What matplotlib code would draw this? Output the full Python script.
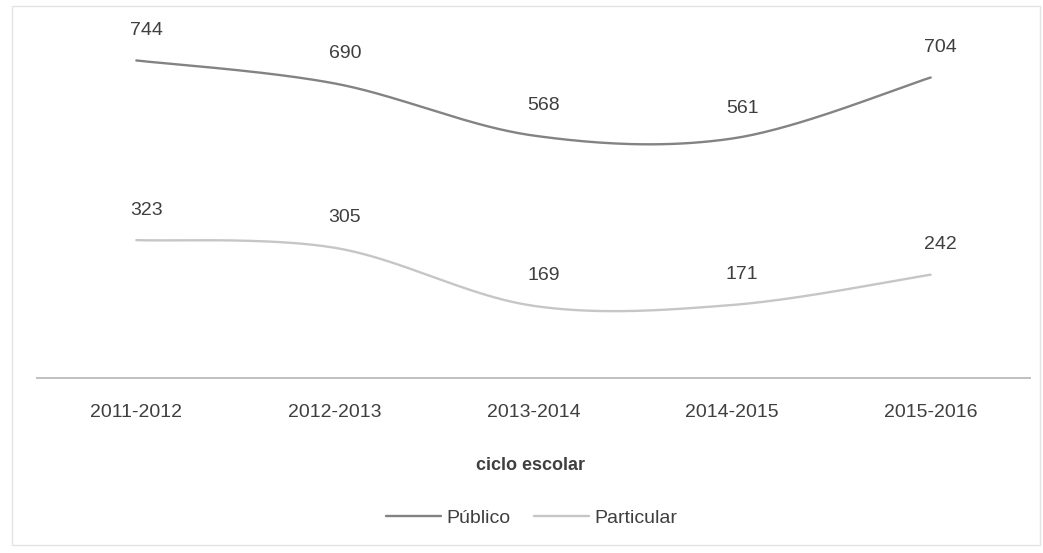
import numpy as np
import matplotlib
matplotlib.use("Agg")
import matplotlib.pyplot as plt
from matplotlib.patches import Rectangle

plt.rcParams['font.family'] = ['Liberation Sans Narrow', 'Liberation Sans', 'DejaVu Sans']

ciclos = ["2011-2012", "2012-2013", "2013-2014", "2014-2015", "2015-2016"]
publico = [744, 690, 568, 561, 704]
particular = [323, 305, 169, 171, 242]


def smooth(y, n=40):
    # Excel-style smoothed line (Bezier through the points, 1/6 tension)
    x = np.arange(len(y), dtype=float)
    y = np.asarray(y, dtype=float)
    xs, ys = [], []
    for i in range(len(y) - 1):
        p0 = np.array([x[max(i - 1, 0)], y[max(i - 1, 0)]])
        p1 = np.array([x[i], y[i]])
        p2 = np.array([x[i + 1], y[i + 1]])
        p3 = np.array([x[min(i + 2, len(y) - 1)], y[min(i + 2, len(y) - 1)]])
        c1 = p1 + (p2 - p0) / 6
        c2 = p2 - (p3 - p1) / 6
        t = np.linspace(0, 1, n)[:, None]
        b = (1 - t) ** 3 * p1 + 3 * (1 - t) ** 2 * t * c1 + 3 * (1 - t) * t ** 2 * c2 + t ** 3 * p2
        xs.extend(b[:, 0])
        ys.extend(b[:, 1])
    return xs, ys


fig = plt.figure(figsize=(10.43, 5.53), dpi=100)
ax = fig.add_axes([0.0355, 0.3165, 0.952, 0.656])

txt = '#3f3f3f'
series = [(publico, '#838383', 'Público'), (particular, '#c6c6c6', 'Particular')]
for vals, col, name in series:
    sx, sy = smooth(vals)
    ax.plot(sx, sy, color=col, linewidth=1.7, label=name, solid_capstyle='round')
    for i, v in enumerate(vals):
        ax.annotate(str(v), (i, v), xytext=(10, 30), textcoords='offset pixels',
                    ha='center', va='center', fontsize=14, color=txt)

ax.set_xlim(-0.5, len(ciclos) - 0.5)
ax.set_ylim(0, 850)
ax.set_xticks(range(len(ciclos)))
ax.set_xticklabels(ciclos, fontsize=14, color=txt)
ax.tick_params(axis='x', length=0, pad=19)
ax.set_yticks([])
for s in ['top', 'left', 'right']:
    ax.spines[s].set_visible(False)
ax.spines['bottom'].set_color('#c0c0c0')
ax.spines['bottom'].set_linewidth(1.4)

fig.text(530 / 1043, 1 - 465 / 553, 'ciclo escolar', ha='center', va='center',
         fontsize=13, fontweight='bold', color=txt)

fig.legend(loc='center', bbox_to_anchor=(0.51, 1 - 518 / 553), ncol=2, frameon=False,
           fontsize=14, handlelength=2.8, handletextpad=0.3, columnspacing=1.2,
           labelcolor=txt)

fig.patches.append(Rectangle((12 / 1043, 1 - 545 / 553), 1028 / 1043, 539 / 553,
                             transform=fig.transFigure, fill=False,
                             edgecolor='#e3e3e3', linewidth=1.0))

fig.savefig('out.png', dpi=100)
